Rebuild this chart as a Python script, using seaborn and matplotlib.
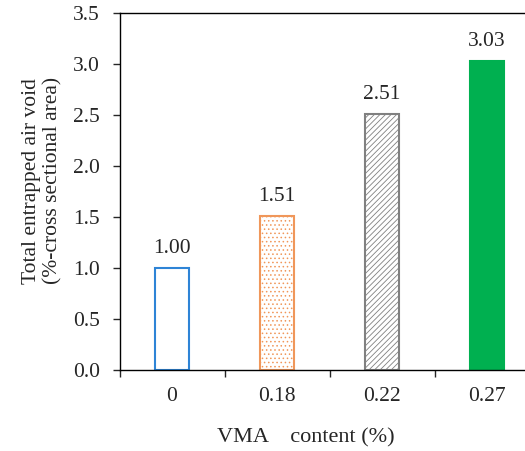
import numpy as np
import pandas as pd
import seaborn as sns
import matplotlib.pyplot as plt
from matplotlib.ticker import FixedLocator, FormatStrFormatter

# data
vma_content = ['0', '0.18', '0.22', '0.27']
air_void = [1.00, 1.51, 2.51, 3.03]
value_labels = ['1.00', '1.51', '2.51', '3.03']

edge_colors = ['#2E84D6', '#F0975A', '#808080', '#00B050']
face_colors = ['white', 'white', 'white', '#00B050']
hatches = [None, '....', '//////', None]

sns.set_style('ticks')
plt.rcParams['font.family'] = ['Liberation Serif', 'DejaVu Serif']
plt.rcParams['font.size'] = 15.5
plt.rcParams['hatch.linewidth'] = 0.6

df = pd.DataFrame({'vma': vma_content, 'void': air_void})

fig = plt.figure(figsize=(5.25, 4.51), dpi=100)
# right spine sits just outside the picture, as in the reference
ax = fig.add_axes([119.5 / 525, 1 - 370 / 451, 420 / 525, 357 / 451])

sns.barplot(data=df, x='vma', y='void', width=0.32, ax=ax, color='white')

for patch, ec, fc, h in zip(ax.patches, edge_colors, face_colors, hatches):
    patch.set_facecolor(fc)
    patch.set_edgecolor(ec)
    patch.set_linewidth(1.5)
    if h:
        patch.set_hatch(h)

for i, (v, lab) in enumerate(zip(air_void, value_labels)):
    ax.annotate(lab, (i, v), xytext=(0, 11), textcoords='offset points',
                ha='center', va='baseline', fontsize=15.5)

ax.set_ylim(0, 3.5)
ax.set_xlim(-0.5, 3.5)
ax.set_yticks(np.arange(0, 3.51, 0.5))
ax.yaxis.set_major_formatter(FormatStrFormatter('%.1f'))
ax.xaxis.set_minor_locator(FixedLocator([-0.5, 0.5, 1.5, 2.5, 3.5]))
ax.tick_params(axis='x', which='major', length=0, pad=12)
ax.tick_params(axis='x', which='minor', length=5, width=1, direction='out')
ax.tick_params(axis='y', length=5, width=1, direction='out', pad=9)

ax.set_xlabel('VMA    content (%)', fontsize=16)
ax.xaxis.set_label_coords(0.444, -0.162)
ax.set_ylabel('Total entrapped air void\n(%-cross sectional area)')
ax.yaxis.set_label_coords(-0.135, 0.53)

for s in ['left', 'bottom', 'top', 'right']:
    ax.spines[s].set_visible(True)
    ax.spines[s].set_color('black')
    ax.spines[s].set_linewidth(1)

fig.savefig('out.png', dpi=100)
